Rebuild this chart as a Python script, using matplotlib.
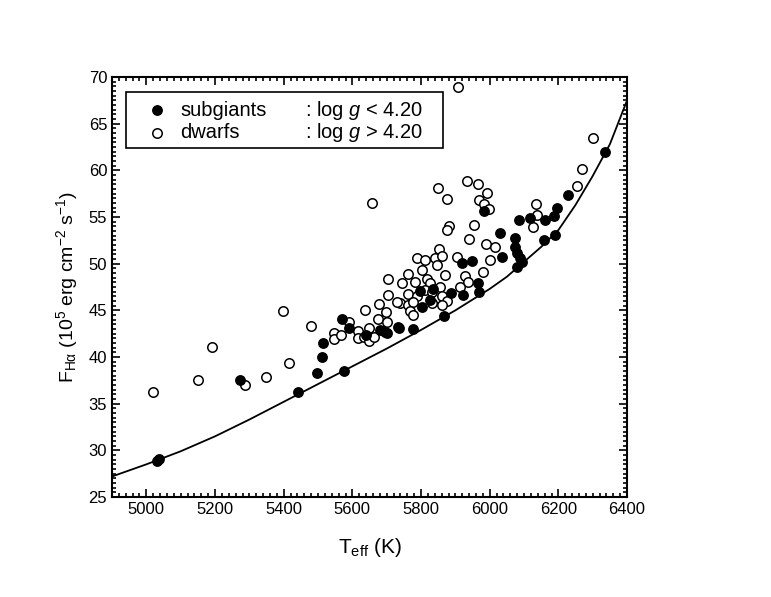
import numpy as np
import matplotlib
matplotlib.use('Agg')
import matplotlib.pyplot as plt
from matplotlib.ticker import MultipleLocator
from matplotlib.patches import Rectangle

plt.rcParams['font.family'] = ['Liberation Sans', 'DejaVu Sans']
plt.rcParams['mathtext.fontset'] = 'custom'
plt.rcParams['mathtext.rm'] = 'Liberation Sans'
plt.rcParams['mathtext.it'] = 'Liberation Sans:italic'

# subgiants (log g < 4.20): Teff (K), F_Halpha (1e5 erg cm-2 s-1)
sub_teff = [5031, 5038, 5273, 5443, 5496, 5511, 5514, 5569, 5591, 5577,
            5681, 5700, 5736, 5639, 6336, 6227, 6197, 6186, 6161, 6116,
            6084, 6190, 6159, 6074, 6074, 6079, 6088, 6093, 6079, 6030,
            6035, 5984, 5948, 5919, 5888, 5922, 5967, 5970, 5867, 5778,
            5734, 5695, 5802, 5797, 5836, 5826]
sub_flux = [28.9, 29.1, 37.5, 36.2, 38.3, 40.0, 41.5, 44.1, 43.1, 38.5,
            42.9, 42.6, 43.1, 42.4, 62.0, 57.4, 56.0, 55.1, 54.7, 54.9,
            54.7, 53.1, 52.5, 52.7, 51.8, 51.1, 50.6, 50.2, 49.6, 53.3,
            50.7, 55.6, 50.3, 50.1, 46.9, 46.6, 47.9, 47.0, 44.4, 43.0,
            43.2, 42.7, 45.4, 47.1, 47.3, 46.1]

# dwarfs (log g > 4.20)
dw_teff = [5019, 5150, 5191, 5287, 5349, 5398, 5414, 5479, 5547, 5547,
           5567, 5591, 5617, 5617, 5637, 5635, 5649, 5649, 5663, 5676,
           5679, 5697, 5702, 5705, 5657, 5908, 6302, 6268, 6254, 6134,
           6137, 6125, 5935, 5967, 5993, 5968, 5982, 5999, 5848, 5877,
           5880, 5875, 5955, 5941, 5989, 6016, 6001, 5980, 5906, 5851,
           5841, 5860, 5789, 5812, 5846, 5705, 5763, 5802, 5817, 5870,
           5928, 5938, 5744, 5783, 5826, 5855, 5914, 5763, 5788, 5812,
           5831, 5860, 5875, 5739, 5763, 5778, 5831, 5860, 5768, 5778,
           5729]
dw_flux = [36.2, 37.5, 41.1, 37.0, 37.9, 44.9, 39.4, 43.3, 42.6, 41.9,
           42.4, 43.8, 42.8, 42.0, 45.0, 42.1, 43.1, 41.7, 42.1, 44.1,
           45.7, 44.85, 43.7, 46.6, 56.5, 68.9, 63.5, 60.1, 58.3, 56.4,
           55.2, 53.9, 58.9, 58.5, 57.6, 56.8, 56.4, 55.9, 58.1, 56.9,
           54.0, 53.6, 54.1, 52.6, 52.1, 51.75, 50.4, 49.1, 50.7, 51.6,
           50.6, 50.8, 50.6, 50.4, 49.9, 48.4, 48.9, 49.3, 48.4, 48.8,
           48.7, 48.0, 47.9, 48.0, 47.9, 47.5, 47.5, 46.8, 46.5, 47.2,
           47.0, 46.5, 46.0, 45.75, 45.6, 45.9, 45.75, 45.6, 44.9, 44.5,
           45.9]

# lower envelope curve
curve_teff = [4900, 5000, 5100, 5200, 5300, 5400, 5500, 5600, 5700, 5800,
              5900, 6000, 6050, 6100, 6150, 6200, 6250, 6300, 6350, 6400]
curve_flux = [27.2, 28.5, 29.9, 31.5, 33.3, 35.2, 37.1, 39.0, 40.9, 42.9,
              45.0, 47.3, 48.6, 50.2, 51.8, 53.6, 56.3, 59.4, 62.8, 67.5]

fig = plt.figure(figsize=(7.71, 5.97), dpi=100)
ax = fig.add_axes([0.1453, 0.1675, 0.668, 0.7035])

ax.plot(curve_teff, curve_flux, color='black', lw=1.3, zorder=1)
ax.plot(dw_teff, dw_flux, 'o', ms=6.8, mfc='white', mec='black', mew=1.1, zorder=2)
ax.plot(sub_teff, sub_flux, 'o', ms=6.8, mfc='black', mec='black', mew=1.0, zorder=3)

ax.set_xlim(4900, 6400)
ax.set_ylim(25, 70)
ax.xaxis.set_major_locator(MultipleLocator(200))
ax.xaxis.set_minor_locator(MultipleLocator(20))
ax.yaxis.set_major_locator(MultipleLocator(5))
ax.yaxis.set_minor_locator(MultipleLocator(0.5))
ax.tick_params(which='both', direction='in', top=True, right=True, width=1.2,
               labelsize=12)
ax.tick_params(which='major', length=6)
ax.tick_params(which='minor', length=3)
for s in ax.spines.values():
    s.set_linewidth(1.5)

ax.set_xlabel(r'T$_{\rm eff}$ (K)', fontsize=15, labelpad=14)
ax.set_ylabel(r'F$_{\rm H\alpha}$ (10$^{5}$ erg cm$^{-2}$ s$^{-1}$)', fontsize=14, labelpad=6)

# legend box
ax.add_patch(Rectangle((0.027, 0.830), 0.616, 0.135, transform=ax.transAxes,
                       fill=False, ec='black', lw=1.2, zorder=5))
ax.plot([0.087], [0.921], 'o', ms=6.8, mfc='black', mec='black',
        transform=ax.transAxes, clip_on=False, zorder=6)
ax.plot([0.087], [0.867], 'o', ms=6.8, mfc='white', mec='black', mew=1.1,
        transform=ax.transAxes, clip_on=False, zorder=6)
ax.text(0.132, 0.921, 'subgiants', transform=ax.transAxes, fontsize=14.5, va='center')
ax.text(0.132, 0.867, 'dwarfs', transform=ax.transAxes, fontsize=14.5, va='center')
ax.text(0.375, 0.921, r': log $g$ < 4.20', transform=ax.transAxes, fontsize=14.5, va='center')
ax.text(0.375, 0.867, r': log $g$ > 4.20', transform=ax.transAxes, fontsize=14.5, va='center')

fig.savefig('out.png', dpi=100)
